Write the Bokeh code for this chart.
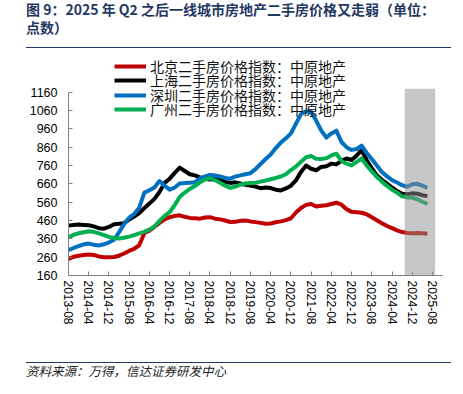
import pandas as pd
from bokeh.plotting import figure
from bokeh.layouts import column
from bokeh.models import (Range1d, FixedTicker, DatetimeTickFormatter, BoxAnnotation,
                          Legend, LegendItem, Div)
from bokeh.embed import file_html
from bokeh.resources import INLINE

# ---------------- data (bi-monthly readings, 2013-08 .. 2025-06) ----------------
dates = pd.date_range("2013-08-01", periods=72, freq="2MS")

beijing = [251, 262, 268, 272, 275, 272, 264, 260, 260, 261, 268, 280,
           294, 306, 325, 392, 405, 425, 447, 466, 478, 485, 488, 480,
           474, 472, 470, 476, 478, 470, 466, 460, 452, 453, 458, 460,
           455, 451, 447, 442, 444, 450, 455, 462, 472, 505, 528, 545,
           550, 536, 540, 543, 550, 557, 546, 522, 507, 505, 502, 494,
           478, 461, 445, 430, 418, 406, 397, 392, 391, 392, 390, 388]

shanghai = [432, 436, 438, 436, 434, 428, 418, 415, 425, 440, 442, 445,
            465, 482, 500, 528, 552, 578, 615, 665, 688, 720, 748, 730,
            712, 706, 695, 688, 684, 686, 680, 670, 665, 668, 662, 655,
            650, 645, 636, 640, 637, 628, 624, 635, 650, 680, 725, 760,
            742, 734, 752, 756, 770, 766, 785, 798, 790, 815, 843, 790,
            745, 706, 682, 661, 640, 620, 606, 603, 608, 606, 598, 593]

shenzhen = [298, 310, 320, 330, 334, 328, 324, 330, 340, 355, 395, 440,
            475, 495, 530, 612, 625, 640, 675, 650, 628, 640, 662, 664,
            666, 668, 690, 700, 708, 705, 700, 692, 688, 700, 706, 712,
            718, 740, 768, 795, 820, 855, 885, 908, 935, 990, 1040, 1056,
            1052, 1005, 950, 912, 935, 950, 888, 860, 845, 850, 868, 828,
            795, 760, 725, 700, 680, 667, 652, 644, 658, 660, 650, 637]

guangzhou = [368, 382, 390, 396, 401, 398, 390, 380, 370, 365, 362, 366,
             372, 380, 390, 398, 410, 428, 458, 485, 505, 545, 588, 612,
             632, 648, 668, 684, 690, 680, 666, 650, 638, 645, 655, 662,
             664, 666, 672, 678, 685, 692, 700, 712, 735, 755, 780, 805,
             812, 797, 795, 800, 815, 824, 785, 770, 760, 780, 798, 760,
             728, 698, 672, 648, 628, 612, 592, 586, 585, 575, 562, 550]

series_names = ["北京二手房价格指数：中原地产", "上海二手房价格指数：中原地产",
                "深圳二手房价格指数：中原地产", "广州二手房价格指数：中原地产"]
series_colors = ["#C00000", "#000000", "#0070C0", "#00B050"]

tick_labels = ["2013-08", "2014-04", "2014-12", "2015-08", "2016-04", "2016-12",
               "2017-08", "2018-04", "2018-12", "2019-08", "2020-04", "2020-12",
               "2021-08", "2022-04", "2022-12", "2023-08", "2024-04", "2024-12",
               "2025-08"]
y_ticks = [160, 260, 360, 460, 560, 660, 760, 860, 960, 1060, 1160]

shade_start, shade_end = "2024-09-01", "2025-09-02"

title_line1 = "图 9：2025 年 Q2 之后一线城市房地产二手房价格又走弱（单位："
title_line2 = "点数）"
source_text = "资料来源：万得，信达证券研发中心"

# ---------------- figure ----------------
def ms(s):
    return pd.Timestamp(s).value / 1e6

x0 = pd.Timestamp("2013-08-01")
p = figure(width=463, height=306, output_backend="svg", toolbar_location=None,
           title=None, x_axis_type="datetime",
           x_range=Range1d(x0, x0 + pd.Timedelta(days=4504)),
           y_range=Range1d(160, 1387),
           min_border_left=68, min_border_right=21,
           min_border_top=0, min_border_bottom=81)
p.outline_line_color = None
p.xgrid.visible = False
p.ygrid.visible = False

renderers = []
for vals, col in zip([beijing, shanghai, shenzhen, guangzhou], series_colors):
    r = p.line(dates, vals, line_color=col, line_width=4, line_join="round")
    renderers.append(r)

p.add_layout(BoxAnnotation(left=ms(shade_start), right=ms(shade_end), bottom=160, top=1178,
                           fill_color="#8f8f8f", fill_alpha=0.5, line_color=None))

# axes
ya = p.yaxis[0]
ya.ticker = FixedTicker(ticks=y_ticks)
ya.bounds = (160, 1160)
ya.major_tick_in = 4
ya.major_tick_out = 0
ya.minor_tick_line_color = None
ya.axis_line_color = "#808080"
ya.major_tick_line_color = "#808080"
ya.major_label_standoff = 11
ya.major_label_text_font = "Liberation Sans"
ya.major_label_text_font_size = "12.5px"
ya.major_label_text_color = "black"

xa = p.xaxis[0]
xa.ticker = FixedTicker(ticks=[ms(t) for t in tick_labels])
fmt = "%Y-%m"
xa.formatter = DatetimeTickFormatter(microseconds=fmt, milliseconds=fmt, seconds=fmt,
                                     minsec=fmt, minutes=fmt, hourmin=fmt, hours=fmt,
                                     days=fmt, months=fmt, years=fmt)
xa.major_label_orientation = "vertical"
xa.major_tick_in = 4
xa.major_tick_out = 0
xa.minor_tick_line_color = None
xa.axis_line_color = "#808080"
xa.major_tick_line_color = "#808080"
xa.major_label_standoff = 5
xa.major_label_text_font = "Liberation Sans"
xa.major_label_text_font_size = "12px"
xa.major_label_text_color = "black"

# legend: one row per legend so that rows sit 14.3px apart as in the reference
frame_bottom, row_h = 275 - 50, 16
for i, (n, r) in enumerate(zip(series_names, renderers)):
    centre = 68 - 50 + i * 14.3
    lg = Legend(items=[LegendItem(label=n, renderers=[r])],
                location=(46, frame_bottom - centre - row_h / 2), padding=0, margin=0, spacing=0,
                glyph_width=32, glyph_height=14, label_height=14, label_standoff=4,
                label_text_font="Noto Sans CJK SC", label_text_font_size="14px",
                label_text_color="#111111", border_line_color=None, background_fill_alpha=0)
    p.add_layout(lg)

title_div = Div(
    text=('<div style="margin:0 0 0 26px;padding:0;width:425px;height:48px;'
          'border-bottom:1.6px solid #1F3864;font-family:\'Noto Sans CJK SC\';font-weight:bold;'
          'font-size:14px;line-height:18px;color:#1F3864;white-space:nowrap;">'
          f'{title_line1}<br>{title_line2}</div>'),
    width=463, height=50, margin=(0, 0, 0, 0))

source_div = Div(
    text=('<div style="margin:6px 0 0 26px;padding:0;width:425px;'
          'border-top:1.6px solid #1F3864;font-family:\'Noto Sans CJK SC\';font-style:italic;'
          'font-size:12.5px;line-height:16px;color:#222222;white-space:nowrap;">'
          f'{source_text}</div>'),
    width=463, height=38, margin=(0, 0, 0, 0))

layout = column(title_div, p, source_div, spacing=0)
open("out.html", "w").write(file_html(layout, INLINE))
